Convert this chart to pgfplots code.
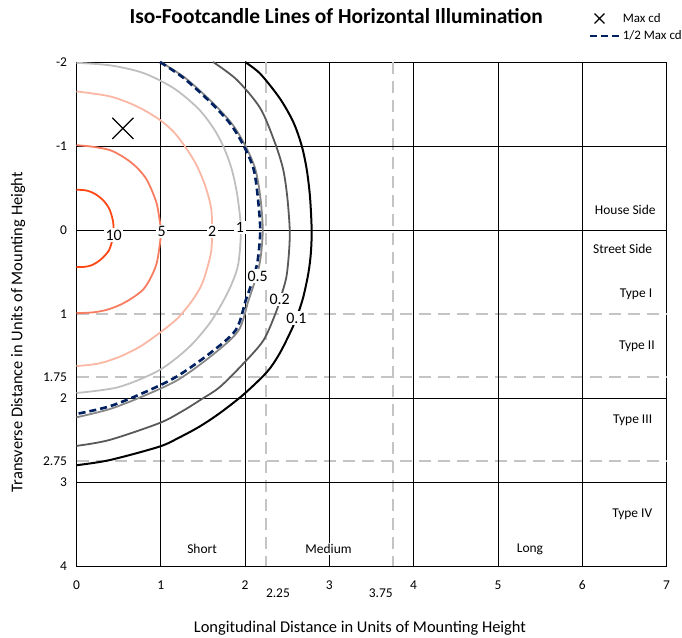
\documentclass[border=0pt]{standalone}
\usepackage{fontspec}
\setmainfont{Carlito}
\usepackage{pgfplots}
\pgfplotsset{compat=1.18}
\definecolor{c10}{RGB}{255,72,22}
\definecolor{c5}{RGB}{248,124,96}
\definecolor{c2}{RGB}{250,183,164}
\definecolor{c1}{RGB}{191,191,191}
\definecolor{c05}{RGB}{135,135,135}
\definecolor{c02}{RGB}{89,89,89}
\definecolor{navy}{RGB}{0,32,96}
\definecolor{gdash}{RGB}{196,196,196}
\pgfplotsset{
  mxleg/.style={legend image code/.code={\draw[##1, mark size=7bp] plot coordinates {(9bp,0bp)};}},
  lnleg/.style={legend image code/.code={\draw[##1] (0bp,0bp) -- (29bp,0bp);}},
}
\begin{document}
\begin{tikzpicture}
\begin{axis}[
  name=ax,
  width=590bp, height=504bp, scale only axis,
  xmin=0, xmax=7, ymin=-2, ymax=4, y dir=reverse,
  clip=false,
  axis line style={black, line width=0.8bp},
  tick align=inside, major tick length=8bp,
  tick style={black, line width=0.8bp},
  xtick pos=bottom, ytick pos=left,
  xtick={0,1,2,3,4,5,6,7},
  ytick={-2,-1,0,1,1.75,2,2.75,3,4},
  yticklabels={-2,-1,0,1,1.75,2,2.75,3,4},
  ticklabel style={font=\fontsize{13.5}{16}\selectfont},
  xticklabel style={yshift=-11bp},
  yticklabel style={xshift=-6bp},
  /pgf/number format/assume math mode=true,
  unbounded coords=jump,
  xlabel={Longitudinal Distance in Units of Mounting Height},
  ylabel={Transverse Distance in Units of Mounting Height},
  xlabel style={font=\fontsize{16.5}{20}\selectfont, at={(axis description cs:0.4805,-0.123)}, anchor=center},
  ylabel style={font=\fontsize{16.5}{20}\selectfont, at={(axis description cs:-0.099,0.464)}, anchor=center},
  legend style={at={(axis description cs:0.8686,1.101)}, anchor=north west, draw=none, fill=none,
    inner sep=0pt, font=\fontsize{13}{15}\selectfont, row sep=3bp},
  legend cell align=left,
]
% dashed grey boundaries
\addplot[gdash, line width=2.1bp, dash pattern=on 12bp off 7bp, forget plot] coordinates {
 (0,1) (7,1) (nan,nan) (0,1.75) (7,1.75) (nan,nan) (0,2.75) (7,2.75) (nan,nan)
 (2.25,-2) (2.25,4) (nan,nan) (3.75,-2) (3.75,4)};
% solid grid lines
\addplot[black, line width=0.8bp, forget plot] coordinates {
 (1,-2) (1,4) (nan,nan) (2,-2) (2,4) (nan,nan) (3,-2) (3,4) (nan,nan) (4,-2) (4,4) (nan,nan)
 (5,-2) (5,4) (nan,nan) (6,-2) (6,4) (nan,nan)
 (0,-1) (7,-1) (nan,nan) (0,0) (7,0) (nan,nan) (0,2) (7,2) (nan,nan) (0,3) (7,3)};
% iso-footcandle lines
\addplot[c10, line width=1.8bp, smooth, forget plot] coordinates {
 (0,-0.48) (0.12,-0.47) (0.22,-0.43) (0.32,-0.35) (0.39,-0.25) (0.43,-0.12) (0.44,0)
 (0.42,0.14) (0.38,0.25) (0.29,0.35) (0.18,0.42) (0.08,0.44) (0,0.44)};
\addplot[c5, line width=1.8bp, smooth, forget plot] coordinates {
 (0,-1.01) (0.2,-0.99) (0.40,-0.95) (0.57,-0.86) (0.71,-0.75) (0.82,-0.62) (0.89,-0.48)
 (0.95,-0.32) (0.98,-0.16) (1.0,0) (0.99,0.16) (0.95,0.40) (0.88,0.57) (0.79,0.71)
 (0.66,0.81) (0.52,0.89) (0.36,0.95) (0.2,0.98) (0,0.99)};
\addplot[c2, line width=1.8bp, smooth, forget plot] coordinates {
 (0,-1.65) (0.40,-1.59) (0.72,-1.47) (0.99,-1.31) (1.16,-1.16) (1.29,-0.99) (1.41,-0.80)
 (1.50,-0.60) (1.56,-0.42) (1.60,-0.24) (1.61,0) (1.60,0.24) (1.56,0.42) (1.49,0.64)
 (1.38,0.83) (1.20,1.05) (0.98,1.23) (0.75,1.39) (0.51,1.51) (0.26,1.59) (0,1.62)};
\addplot[c1, line width=1.8bp, smooth, forget plot] coordinates {
 (0,-1.99) (0.40,-1.96) (0.79,-1.87) (1.15,-1.69) (1.44,-1.45) (1.62,-1.22) (1.74,-1.0)
 (1.84,-0.73) (1.91,-0.40) (1.95,0) (1.92,0.40) (1.85,0.62) (1.75,0.83) (1.58,1.11)
 (1.33,1.40) (0.98,1.67) (0.50,1.87) (0,1.94)};
\addplot[c05, line width=1.8bp, smooth, forget plot] coordinates {
 (1.0,-2.0) (1.29,-1.81) (1.60,-1.53) (1.84,-1.27) (2.0,-1.01) (2.12,-0.73) (2.18,-0.40)
 (2.21,0) (2.18,0.36) (2.12,0.60) (2.04,0.84) (1.92,1.20) (1.61,1.49) (1.21,1.78)
 (0.81,1.97) (0.40,2.13) (0,2.23)};
\addplot[c02, line width=1.8bp, smooth, forget plot] coordinates {
 (1.62,-2) (1.90,-1.79) (2.18,-1.45) (2.35,-1.05) (2.45,-0.73) (2.50,-0.40) (2.53,0)
 (2.52,0.28) (2.49,0.56) (2.43,0.78) (2.37,0.97) (2.22,1.31) (1.98,1.59) (1.70,1.87)
 (1.49,2.01) (1.25,2.16) (0.98,2.30) (0.39,2.50) (0,2.57)};
\addplot[black, line width=2bp, smooth, forget plot] coordinates {
 (2.0,-2) (2.18,-1.86) (2.41,-1.57) (2.57,-1.29) (2.67,-1.01) (2.73,-0.73) (2.77,-0.40)
 (2.79,0) (2.78,0.28) (2.75,0.52) (2.69,0.80) (2.62,1.02) (2.55,1.19) (2.41,1.47)
 (2.26,1.69) (1.98,1.96) (1.70,2.18) (1.46,2.34) (1.22,2.47) (0.98,2.58) (0.39,2.74) (0,2.80)};
% legend series
\addplot[only marks, mark=x, mark size=15bp, black, line width=1.3bp, mxleg]
  coordinates {(0.55,-1.21)};
\addlegendentry{Max cd}
\addplot[navy, line width=2.6bp, dash pattern=on 7bp off 4bp, smooth, lnleg] coordinates {
 (0.99,-2.0) (1.27,-1.81) (1.58,-1.53) (1.82,-1.27) (1.98,-1.01) (2.10,-0.73) (2.15,-0.40)
 (2.18,0) (2.15,0.36) (2.09,0.60) (2.01,0.83) (1.89,1.19) (1.58,1.47) (1.18,1.75)
 (0.79,1.94) (0.39,2.10) (0,2.19)};
\addlegendentry{1/2 Max cd}
% contour labels
\begin{scope}[every node/.style={fill=white, inner sep=1.5bp, font=\fontsize{16}{18}\selectfont}]
\node at (axis cs:0.44,0.06) {10};
\node at (axis cs:1.01,0.02) {5};
\node at (axis cs:1.61,0.01) {2};
\node at (axis cs:1.94,-0.03) {1};
\node at (axis cs:2.15,0.55) {0.5};
\node at (axis cs:2.41,0.83) {0.2};
\node at (axis cs:2.61,1.05) {0.1};
\end{scope}
% region labels
\begin{scope}[every node/.style={font=\fontsize{13.5}{16}\selectfont, inner sep=1.5bp, fill=white}]
\node[anchor=east] at (axis cs:6.89,-0.24) {House Side};
\node[anchor=east] at (axis cs:6.85,0.23) {Street Side};
\node[anchor=east] at (axis cs:6.85,0.76) {Type I};
\node[anchor=east] at (axis cs:6.88,1.39) {Type II};
\node[anchor=east] at (axis cs:6.85,2.27) {Type III};
\node[anchor=east] at (axis cs:6.85,3.39) {Type IV};
\node at (axis cs:1.49,3.80) {Short};
\node at (axis cs:2.99,3.80) {Medium};
\node at (axis cs:5.38,3.80) {Long};
\end{scope}
\begin{scope}[every node/.style={font=\fontsize{13.5}{16}\selectfont, inner sep=0pt}]
\node at (axis cs:2.39,4.32) {2.25};
\node at (axis cs:3.61,4.32) {3.75};
\end{scope}
\node[font=\fontsize{21.5}{26}\bfseries\selectfont] at (axis description cs:0.44,1.091)
  {Iso-Footcandle Lines of Horizontal Illumination};
\end{axis}
\pgfresetboundingbox
\path ([shift={(-76.5bp,-72bp)}]ax.south west) rectangle ([shift={(15.5bp,62bp)}]ax.north east);
\end{tikzpicture}
\end{document}
